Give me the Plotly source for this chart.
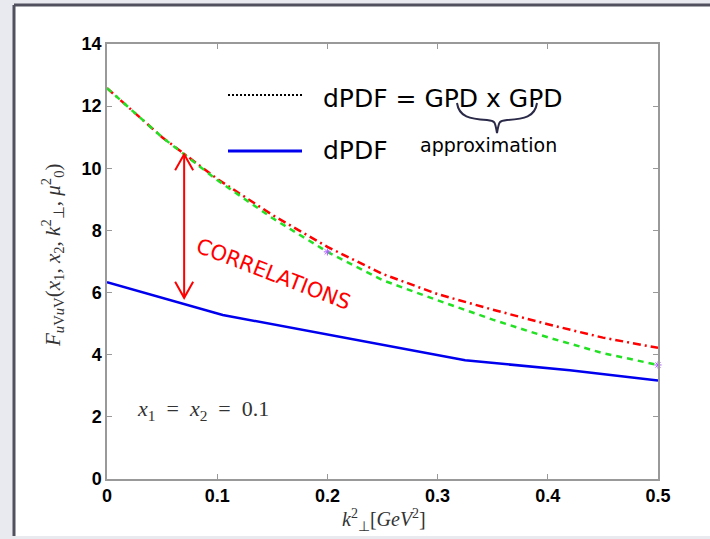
import numpy as np
import plotly.graph_objects as go

# ---------------- data ----------------
k2_smooth = [0.0, 0.05, 0.10, 0.15, 0.20, 0.25, 0.30, 0.35, 0.40, 0.45, 0.50]
red_vals = [12.58, 11.00, 9.66, 8.50, 7.47, 6.60, 5.95, 5.45, 4.98, 4.55, 4.22]
green_vals = [12.58, 11.00, 9.62, 8.40, 7.31, 6.40, 5.75, 5.13, 4.56, 4.05, 3.67]
k2_blue = [0.0, 0.105, 0.325, 0.42, 0.50]
blue_vals = [6.33, 5.28, 3.82, 3.50, 3.17]
star_k2 = [0.20, 0.50]
star_vals = [7.31, 3.67]
x_ticks = [0, 0.1, 0.2, 0.3, 0.4, 0.5]
y_ticks = [0, 2, 4, 6, 8, 10, 12, 14]
arrow_k2 = 0.07
arrow_top = 10.45
arrow_bottom = 5.83

# ---------------- geometry helpers (decoration only) ----------------
W, H = 710, 539
L, R, T, B = 107, 52, 44, 60
PW, PH = W - L - R, H - T - B


def pp(x, y):
    """pixel -> paper coordinates"""
    return (x - L) / PW, (H - B - y) / PH


fig = go.Figure()

fig.add_trace(go.Scatter(x=k2_smooth, y=red_vals, mode="lines",
                         line=dict(color="#ff0000", width=2.5, dash="8px,4px,2px,4px"),
                         showlegend=False))
fig.add_trace(go.Scatter(x=k2_smooth, y=green_vals, mode="lines",
                         line=dict(color="#22e022", width=2.5, dash="6px,5px"),
                         showlegend=False))
fig.add_trace(go.Scatter(x=k2_blue, y=blue_vals, mode="lines",
                         line=dict(color="#0000ee", width=2.5),
                         showlegend=False))
fig.add_trace(go.Scatter(x=star_k2, y=star_vals, mode="markers",
                         marker=dict(symbol="asterisk-open", size=6,
                                     line=dict(color="#5a7fd0", width=1)),
                         showlegend=False, cliponaxis=False))

shapes = []
# slide panel
x0, y0 = pp(14, 5)
x1, y1 = pp(712, 536)
shapes.append(dict(type="rect", xref="paper", yref="paper", x0=x0, y0=y1, x1=x1, y1=y0,
                   fillcolor="white", line=dict(width=0), layer="below"))
shapes.append(dict(type="line", xref="paper", yref="paper", x0=x0, y0=y1, x1=x0, y1=y0,
                   line=dict(color="#50505e", width=3), layer="below"))
shapes.append(dict(type="line", xref="paper", yref="paper", x0=x0, y0=y0, x1=x1, y1=y0,
                   line=dict(color="#50505e", width=3), layer="below"))

# legend samples
a, b = pp(228, 95)
c, _ = pp(302, 95)
shapes.append(dict(type="line", xref="paper", yref="paper", x0=a, y0=b, x1=c, y1=b,
                   line=dict(color="black", width=2, dash="2px,2px")))
a, b = pp(228, 151)
shapes.append(dict(type="line", xref="paper", yref="paper", x0=a, y0=b, x1=c, y1=b,
                   line=dict(color="#0000ee", width=3)))

# curly brace
pts = [(457, 103), (459, 117), (470, 119), (487, 120), (495, 121), (497, 133),
       (499, 121), (507, 120), (524, 119), (535, 117), (537, 103)]
P = [pp(*p) for p in pts]
path = ("M{0[0]:.4f},{0[1]:.4f} C{1[0]:.4f},{1[1]:.4f} {2[0]:.4f},{2[1]:.4f} {3[0]:.4f},{3[1]:.4f} "
        "C{4[0]:.4f},{4[1]:.4f} {4[0]:.4f},{4[1]:.4f} {5[0]:.4f},{5[1]:.4f} "
        "C{6[0]:.4f},{6[1]:.4f} {6[0]:.4f},{6[1]:.4f} {7[0]:.4f},{7[1]:.4f} "
        "C{8[0]:.4f},{8[1]:.4f} {9[0]:.4f},{9[1]:.4f} {10[0]:.4f},{10[1]:.4f}").format(*P)
shapes.append(dict(type="path", xref="paper", yref="paper", path=path,
                   line=dict(color="#2a2a48", width=2)))

# double arrow (data x, data y; head size from pixel scale)
dx = 9 * 0.5 / PW
dy = 16 * 14 / PH
shapes.append(dict(type="line", x0=arrow_k2, x1=arrow_k2, y0=arrow_bottom, y1=arrow_top,
                   line=dict(color="#ff0000", width=2)))
shapes.append(dict(type="path",
                   path=f"M{arrow_k2-dx},{arrow_top-dy} L{arrow_k2},{arrow_top} L{arrow_k2+dx},{arrow_top-dy}",
                   line=dict(color="#ff0000", width=2)))
shapes.append(dict(type="path",
                   path=f"M{arrow_k2-dx},{arrow_bottom+dy} L{arrow_k2},{arrow_bottom} L{arrow_k2+dx},{arrow_bottom+dy}",
                   line=dict(color="#ff0000", width=2)))

annotations = []
sans = "DejaVu Sans"
serif = "Liberation Serif"
x, y = pp(321, 98)
annotations.append(dict(xref="paper", yref="paper", x=x, y=y, xanchor="left", yanchor="middle",
                        text="dPDF = GPD x GPD", showarrow=False,
                        font=dict(family=sans, size=25, color="black")))
x, y = pp(321, 150)
annotations.append(dict(xref="paper", yref="paper", x=x, y=y, xanchor="left", yanchor="middle",
                        text="dPDF", showarrow=False,
                        font=dict(family=sans, size=25, color="black")))
x, y = pp(418, 145)
annotations.append(dict(xref="paper", yref="paper", x=x, y=y, xanchor="left", yanchor="middle",
                        text="approximation", showarrow=False,
                        font=dict(family=sans, size=19, color="black")))
x, y = pp(273, 274)
annotations.append(dict(xref="paper", yref="paper", x=x, y=y, xanchor="center", yanchor="middle",
                        text="CORRELATIONS", showarrow=False, textangle=21,
                        font=dict(family=sans, size=21, color="#ff0000")))
x, y = pp(203, 410)
annotations.append(dict(xref="paper", yref="paper", x=x, y=y, xanchor="center", yanchor="middle",
                        text="<i>x</i><sub>1</sub>  =  <i>x</i><sub>2</sub>  =  0.1", showarrow=False,
                        font=dict(family=serif, size=22, color="#333333")))
x, y = pp(52, 256)
annotations.append(dict(xref="paper", yref="paper", x=x, y=y, xanchor="center", yanchor="middle",
                        textangle=-90, showarrow=False,
                        text="<i>F</i><sub><i>u</i>V<i>u</i>V</sub>(<i>x</i><sub>1</sub>, <i>x</i><sub>2</sub>, "
                             "<i>k</i><sup>2</sup><sub>⊥</sub>, <i>μ</i><sup>2</sup><sub>0</sub>)",
                        font=dict(family=serif, size=21, color="#333333")))
x, y = pp(384, 520)
annotations.append(dict(xref="paper", yref="paper", x=x, y=y, xanchor="center", yanchor="middle",
                        showarrow=False,
                        text="<i>k</i><sup>2</sup><sub>⊥</sub>[<i>GeV</i><sup>2</sup>]",
                        font=dict(family=serif, size=20, color="#333333")))

axis_common = dict(showgrid=False, zeroline=False, showline=True, linecolor="#999999",
                   linewidth=1.5, mirror="ticks", ticks="inside", ticklen=5,
                   tickcolor="#999999", tickwidth=1,
                   tickfont=dict(family="Liberation Sans", size=18, color="black", weight="bold"))

fig.update_layout(
    width=W, height=H,
    margin=dict(l=L, r=R, t=T, b=B, pad=0),
    paper_bgcolor="#e9e9f0",
    plot_bgcolor="white",
    xaxis=dict(range=[0, 0.5], tickvals=x_ticks, ticktext=[f"{v:g}" for v in x_ticks], **axis_common),
    yaxis=dict(range=[0, 14], tickvals=y_ticks, **axis_common),
    shapes=shapes,
    annotations=annotations,
    showlegend=False,
)

fig.write_html("out.html",
               config={"displayModeBar": False},
               post_script="document.body.style.margin='0';document.body.style.padding='0';"
                           "document.body.style.overflow='hidden';"
                           "document.body.style.background='#e9e9f0';")
